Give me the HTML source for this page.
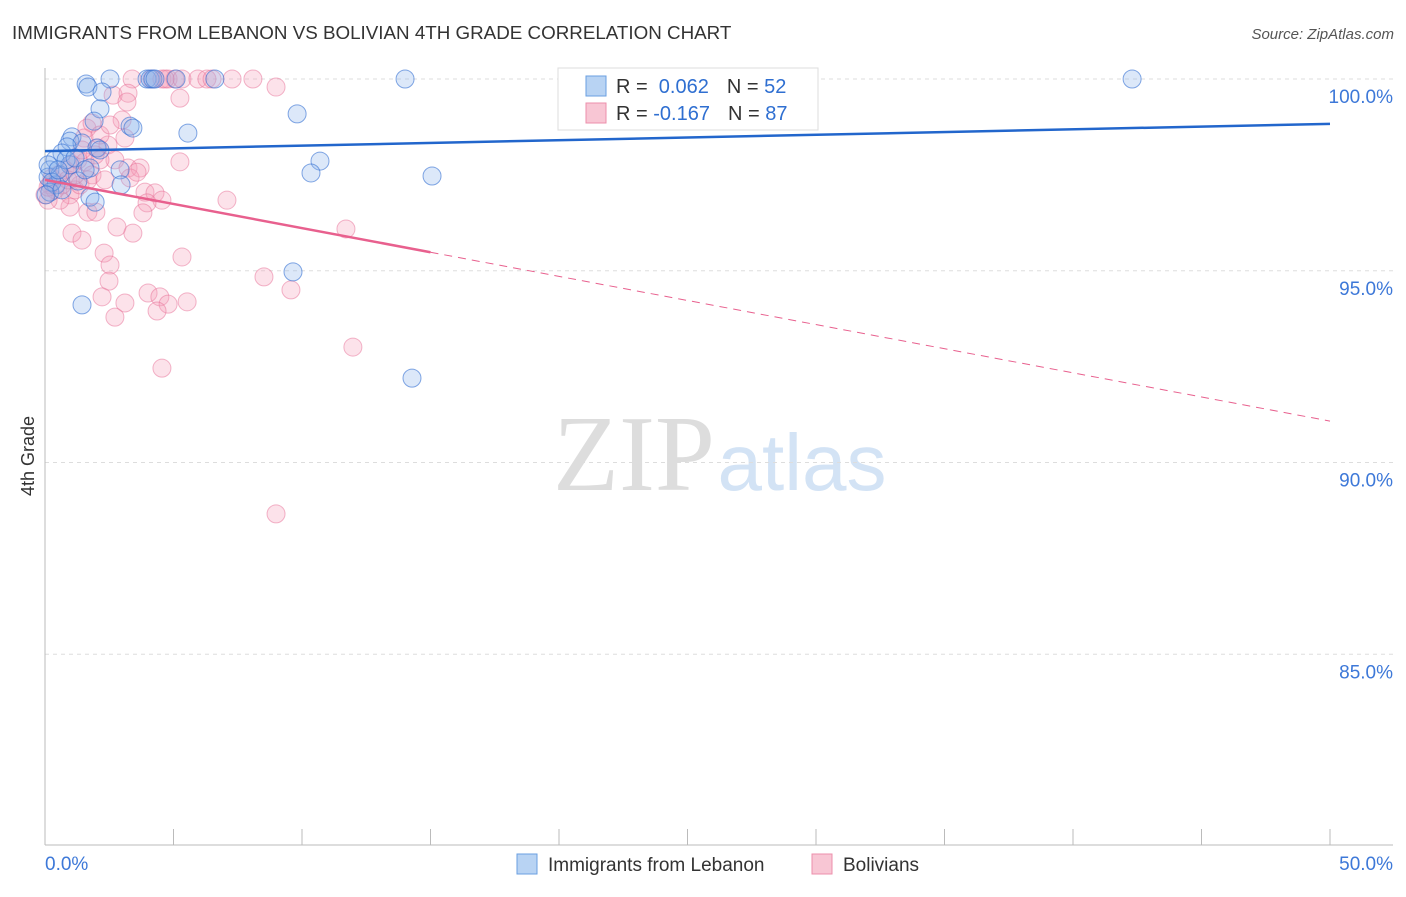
<!DOCTYPE html>
<html><head><meta charset="utf-8"><style>
body{margin:0;background:#fff;font-family:"Liberation Sans",sans-serif;}
</style></head><body>
<svg id="chart" width="1406" height="892" xmlns="http://www.w3.org/2000/svg" font-family="Liberation Sans, sans-serif">
<text x="12" y="39" font-size="18.8" fill="#333">IMMIGRANTS FROM LEBANON VS BOLIVIAN 4TH GRADE CORRELATION CHART</text>
<text x="1394" y="39" font-size="15" fill="#555" font-style="italic" text-anchor="end">Source: ZipAtlas.com</text>
<text transform="translate(34,456) rotate(-90)" font-size="18" fill="#333" text-anchor="middle">4th Grade</text>
<g><text x="634" y="490" font-size="108" fill="#ddd" font-family="Liberation Serif, serif" text-anchor="middle">ZIP</text><text x="802" y="490" font-size="80" fill="#d3e3f5" text-anchor="middle">atlas</text></g>
<g id="grid"></g><g id="axes"></g><g id="pts"></g><g id="lines"></g>
<g>
<rect x="558" y="68" width="260" height="62" fill="#fff" stroke="#ddd"/>
<rect x="586" y="76" width="20" height="20" fill="#b8d3f3" stroke="#6a9fe0"/>
<text x="616" y="93" font-size="20" fill="#333">R = <tspan fill="#2f6fd1">&#160;0.062</tspan><tspan dx="18">N = </tspan><tspan fill="#2f6fd1">52</tspan></text>
<rect x="586" y="103" width="20" height="20" fill="#f8c6d4" stroke="#ec8fab"/>
<text x="616" y="120" font-size="20" fill="#333">R = <tspan fill="#2f6fd1">-0.167</tspan><tspan dx="18">N = </tspan><tspan fill="#2f6fd1">87</tspan></text>
</g>
<g>
<rect x="517" y="854" width="20" height="20" fill="#b8d3f3" stroke="#6a9fe0"/>
<text x="548" y="871" font-size="19" fill="#333">Immigrants from Lebanon</text>
<rect x="812" y="854" width="20" height="20" fill="#f8c6d4" stroke="#ec8fab"/>
<text x="843" y="871" font-size="19" fill="#333">Bolivians</text>
</g>
</svg>
<script>
const xTicks=[0,5,10,15,20,25,30,35,40,45,50];
const yTicks=[100,95,90,85];
const yTickLabels=["100.0%","95.0%","90.0%","85.0%"];
const blueX=[1.60,1.67,2.53,3.97,4.09,4.20,4.28,5.10,6.61,14.01,42.30,2.22,2.14,9.81,1.91,3.31,3.42,5.56,1.05,0.97,1.44,0.86,2.02,0.66,10.70,0.39,0.97,1.75,2.92,10.35,15.06,0.19,0.12,1.28,2.96,0.43,0.19,1.75,1.95,9.65,1.44,14.28,0.58,0.27,0.82,1.17,0.12,1.56,2.14,0.51,0.04,0.66];
const blueY=[99.87,99.79,100,100,100,100,100,100,100,100,100,99.66,99.22,99.09,98.90,98.77,98.72,98.59,98.49,98.38,98.33,98.23,98.20,98.07,97.86,97.89,97.76,97.68,97.63,97.55,97.47,97.63,97.44,97.34,97.24,97.24,97.05,96.92,96.79,94.97,94.11,92.20,97.50,97.31,97.89,97.94,97.76,97.63,98.15,97.63,96.98,97.11];
const pinkX=[3.39,4.16,4.55,4.79,5.06,5.33,5.95,6.30,6.50,7.28,8.09,8.99,2.65,3.23,3.19,5.25,4.67,3.00,3.11,1.63,1.83,1.52,2.06,2.45,2.72,3.23,3.70,3.31,5.25,3.58,3.89,4.28,4.55,3.97,3.81,7.08,11.71,1.05,1.44,2.80,3.42,2.30,2.53,2.49,5.33,8.52,9.57,2.22,3.11,4.01,4.47,4.79,4.36,5.53,2.72,11.98,4.55,8.99,0.97,1.17,1.36,1.67,1.98,0.97,0.58,0.39,0.19,0.12,0.27,0.51,0.78,1.05,1.28,1.56,1.83,2.14,2.33,1.67,0.66,0.89,1.17,0,0.12,1.95,2.14,2.53,1.44];
const pinkY=[100,100,100,100,100,100,100,100,100,100,100,99.79,99.58,99.63,99.40,99.50,100,98.93,98.46,98.72,98.85,98.46,98.20,98.28,97.89,97.68,97.68,97.42,97.84,97.57,97.05,97.03,96.84,96.77,96.51,96.84,96.09,95.98,95.80,96.14,95.98,95.46,95.15,94.73,95.36,94.84,94.50,94.32,94.16,94.42,94.32,94.13,93.95,94.19,93.79,93.01,92.46,88.66,96.98,97.11,97.24,96.53,96.53,96.66,96.84,97.11,97.24,96.84,97.42,97.50,97.63,97.76,97.89,97.84,97.50,97.89,97.37,97.37,97.24,97.37,97.50,96.98,97.18,98.02,98.54,98.80,98.15];
const blueTrend=[98.12,98.83];
const pinkTrend=[97.37,91.08];
const pinkSolidEnd=15;
const NS="http://www.w3.org/2000/svg";
const X=v=>45+v*25.7, Y=v=>79+(100-v)*38.35;
function mk(tag,attrs,parent){const e=document.createElementNS(NS,tag);for(const k in attrs)e.setAttribute(k,attrs[k]);parent.appendChild(e);return e;}
const grid=document.getElementById('grid'),axes=document.getElementById('axes'),pts=document.getElementById('pts'),lines=document.getElementById('lines');
yTicks.forEach((t,i)=>{
 const gy=Y(t);
 const l=mk('line',{x1:45,x2:1393,y1:gy,y2:gy,stroke:'#ddd','stroke-dasharray':'4,4'},grid);
 
 
 const tx=mk('text',{x:1393,y:Y(t)+24,'font-size':19,fill:'#3d78d8','text-anchor':'end'},axes);
 tx.textContent=yTickLabels[i];
 
 
});
const ya=mk('line',{x1:45,x2:45,y1:68,y2:845,stroke:'#bbb'},axes);


const xa=mk('line',{x1:45,x2:1393,y1:845,y2:845,stroke:'#bbb'},axes);


xTicks.forEach(t=>{
 const l=mk('line',{x1:X(t),x2:X(t),y1:829,y2:845,stroke:'#bbb'},axes);
 
 
});
[[0,"0.0%","start",45],[50,"50.0%","end",1393]].forEach(a=>{
 const tx=mk('text',{x:a[3],y:870,'font-size':19,fill:'#3d78d8','text-anchor':a[2]},axes);
 tx.textContent=a[1];
 
 
});
pinkX.forEach((x,i)=>{
 const c=mk('circle',{cx:X(x),cy:Y(pinkY[i]),r:9,fill:'rgba(244,160,185,0.3)',stroke:'rgba(232,110,150,0.5)','stroke-width':1},pts);
 
 
});
blueX.forEach((x,i)=>{
 const c=mk('circle',{cx:X(x),cy:Y(blueY[i]),r:9,fill:'rgba(140,180,235,0.3)',stroke:'rgba(50,110,210,0.6)','stroke-width':1},pts);
 
 
});
const bl=mk('line',{x1:X(0),y1:Y(blueTrend[0]),x2:X(50),y2:Y(blueTrend[1]),stroke:'#2266cc','stroke-width':2.5},lines);


const pm=pinkTrend[0]+(pinkTrend[1]-pinkTrend[0])*pinkSolidEnd/50;
const pl=mk('line',{x1:X(0),y1:Y(pinkTrend[0]),x2:X(pinkSolidEnd),y2:Y(pm),stroke:'#e8608e','stroke-width':2.5},lines);


const pd=mk('line',{x1:X(pinkSolidEnd),y1:Y(pm),x2:X(50),y2:Y(pinkTrend[1]),stroke:'#e8608e','stroke-width':1,'stroke-dasharray':'8,6'},lines);


</script>
</body></html>
